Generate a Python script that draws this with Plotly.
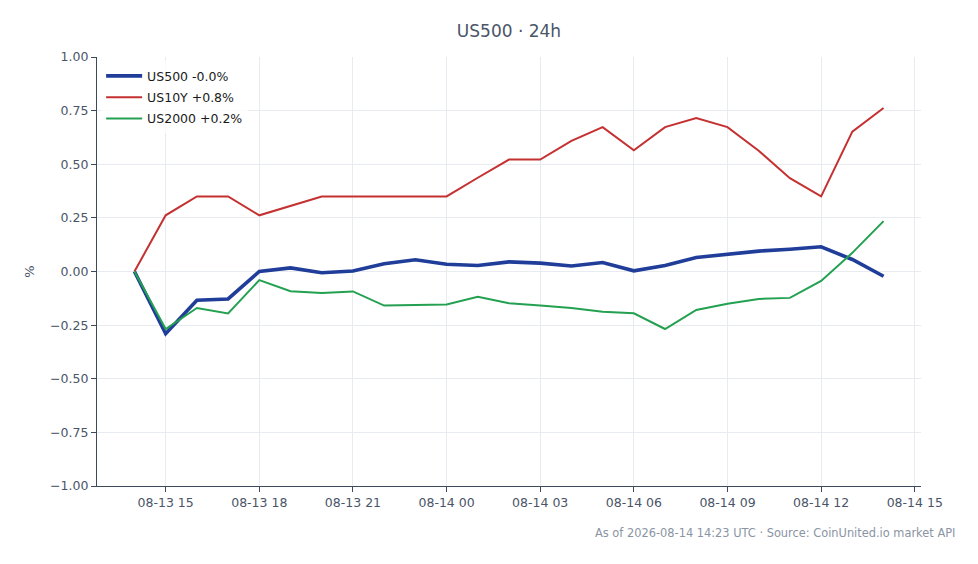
import plotly.graph_objects as go
import pandas as pd

times = pd.date_range("2026-08-13 14:00", "2026-08-14 14:00", freq="h")

us500 = [0.0, -0.29, -0.134, -0.128, 0.0, 0.017, -0.006, 0.002, 0.036, 0.055, 0.034, 0.028, 0.045,
         0.039, 0.026, 0.042, 0.003, 0.028, 0.065, 0.079, 0.095, 0.104, 0.115, 0.056, -0.022]
us10y = [0.0, 0.262, 0.35, 0.35, 0.262, 0.305, 0.35, 0.35, 0.35, 0.35, 0.35, 0.437, 0.522,
         0.522, 0.609, 0.673, 0.565, 0.673, 0.716, 0.673, 0.563, 0.435, 0.35, 0.652, 0.762]
us2000 = [0.0, -0.268, -0.17, -0.196, -0.04, -0.092, -0.1, -0.093, -0.159, -0.157, -0.154, -0.118, -0.148,
          -0.159, -0.17, -0.188, -0.195, -0.268, -0.179, -0.15, -0.128, -0.123, -0.044, 0.087, 0.235]

names = ["US500 -0.0%", "US10Y +0.8%", "US2000 +0.2%"]
colors = ["#1f3d99", "#c53030", "#23a050"]
widths = [3.6, 2.0, 2.0]

title = "US500 · 24h"
footer = "As of 2026-08-14 14:23 UTC · Source: CoinUnited.io market API"

fig = go.Figure()
for i, (ys, nm, c, w) in enumerate(zip([us500, us10y, us2000], names, colors, widths)):
    fig.add_trace(go.Scatter(x=times, y=ys, mode="lines", name=nm, legendgroup=f"g{i}",
                             line=dict(color=c, width=w)))

fig.add_hline(y=0, line=dict(color="#8a9bb0", width=1.2, dash="dash"), layer="below")

span = times[-1] - times[0]
pad = span * 0.05
font_color = "#4a5568"
axis_color = "#3d4a5c"

fig.update_layout(
    width=978, height=564,
    margin=dict(l=89, r=65, t=49, b=86),
    paper_bgcolor="white", plot_bgcolor="white",
    font=dict(family="DejaVu Sans", size=12, color=font_color),
    title=dict(text=title, x=(509 - 8) / 978, xanchor="center", y=1 - (31 - 8) / 564, yanchor="middle",
               font=dict(size=17, color=font_color)),
    showlegend=True,
    legend=dict(x=0.005, y=0.99, xanchor="left", yanchor="top",
                bgcolor="rgba(255,255,255,0.8)", font=dict(size=12.5, color="#1a1a1a"),
                itemwidth=36, tracegroupgap=2),
    xaxis=dict(range=[times[0] - pad, times[-1] + pad], type="date",
               tick0="2026-08-13 15:00", dtick=3 * 3600 * 1000, tickformat="%m-%d %H",
               showgrid=True, gridcolor="#e8ecf1", gridwidth=1,
               showline=True, linecolor=axis_color, linewidth=1.3,
               ticks="outside", ticklen=5, tickcolor=axis_color,
               tickfont=dict(size=12.5, color=font_color), zeroline=False),
    yaxis=dict(range=[-1, 1], tickvals=[-1, -0.75, -0.5, -0.25, 0, 0.25, 0.5, 0.75, 1],
               ticktext=["−1.00", "−0.75", "−0.50", "−0.25", "0.00", "0.25", "0.50", "0.75", "1.00"],
               showgrid=True, gridcolor="#e8ecf1", gridwidth=1,
               showline=True, linecolor=axis_color, linewidth=1.3,
               ticks="outside", ticklen=5, tickcolor=axis_color,
               tickfont=dict(size=12.5, color=font_color), zeroline=False,
               title=dict(text="%", font=dict(size=13, color=font_color), standoff=12)),
    annotations=[dict(text=footer, xref="paper", yref="paper", x=(957 - 97) / 824, y=-(533 - 486) / 429,
                      xanchor="right", yanchor="middle", showarrow=False,
                      font=dict(size=11.4, color="#8a94a3"))],
)

fig.write_html("out.html")
